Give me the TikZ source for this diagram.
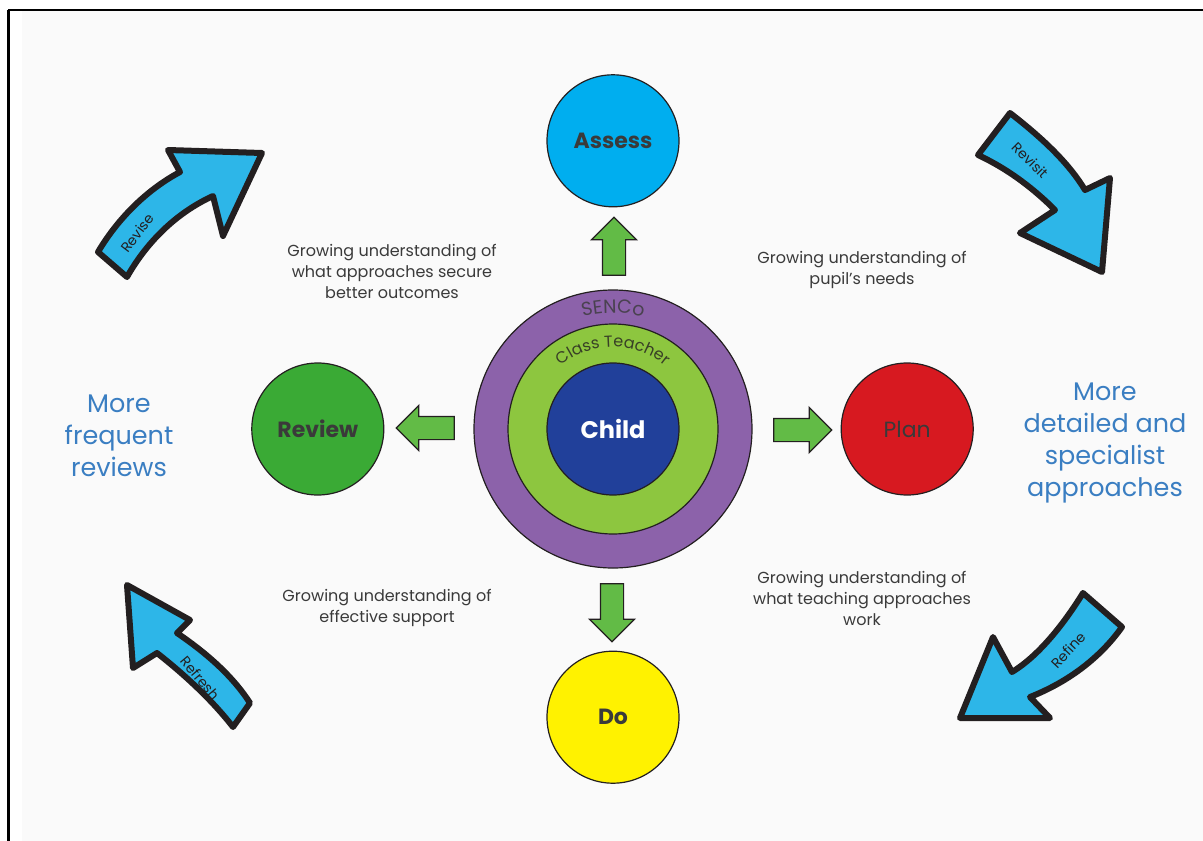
\documentclass[tikz,border=0pt]{standalone}
\usepackage{fontspec}
\setmainfont{Poppins}
\usetikzlibrary{positioning,shapes.arrows,decorations.text}

\definecolor{assesscol}{HTML}{00AEEF}
\definecolor{reviewcol}{HTML}{3AAA35}
\definecolor{plancol}{HTML}{D71920}
\definecolor{docol}{HTML}{FFF200}
\definecolor{sencocol}{HTML}{8C62AA}
\definecolor{teachercol}{HTML}{8DC63F}
\definecolor{childcol}{HTML}{21409A}
\definecolor{arrowgreen}{HTML}{62BB46}
\definecolor{arrowblue}{HTML}{2DB6E8}
\definecolor{inkdark}{HTML}{231F20}
\definecolor{notegray}{HTML}{3A3A3A}
\definecolor{aimblue}{HTML}{3A7EC2}
\definecolor{pagegray}{HTML}{FAFAFA}

\tikzset{
  phase/.style={circle, draw=inkdark, line width=1.2pt, minimum size=132pt, inner sep=0pt,
    text=notegray, font=\fontsize{22}{26}\selectfont\bfseries},
  ring/.style={circle, draw=inkdark, line width=1.2pt, inner sep=0pt},
  garrow/.style={single arrow, draw=inkdark, fill=arrowgreen, line width=1.2pt,
    minimum height=58pt, inner sep=0pt, inner ysep=11pt, single arrow head extend=11pt},
  bigarrow/.style={fill=arrowblue, draw=inkdark, line width=6pt, line join=round},
  note/.style={align=center, text=notegray, font=\fontsize{16}{21}\selectfont},
  aim/.style={align=center, text=aimblue, font=\fontsize{25.5}{32}\selectfont},
  tag/.style={text=inkdark, font=\fontsize{14}{16}\selectfont}
}

\begin{document}
\begin{tikzpicture}[x=1pt, y=1pt]
	\useasboundingbox (0,0) rectangle (1203,-841);
	\fill[white] (0,0) rectangle (1203,-841);
	\fill[pagegray] (22,-11) rectangle (1203,-841);
	\draw[line width=2pt] (8,-10) -- (1203,-10);
	\draw[line width=3pt] (8,-10) -- (8,-841);

	\node[ring, fill=sencocol, minimum size=278pt]   (senco)   at (613,-429) {};
	\node[ring, fill=teachercol, minimum size=210pt] (teacher) at (senco.center) {};
	\node[ring, fill=childcol, minimum size=132pt, text=white,
		font=\fontsize{24}{28}\selectfont\bfseries]   (child)   at (senco.center) {Child};

	\path[decorate, decoration={text along path, text align=center, text color=notegray!80!sencocol,
		text={|\fontsize{19}{20}\selectfont|SENCo}}]
		(senco.center) ++(160:116) arc (160:20:116);
	\path[decorate, decoration={text along path, text align=center, text color=inkdark!80!teachercol,
		text={|\fontsize{16}{18}\selectfont|Class Teacher}}]
		(senco.center) ++(160:82) arc (160:20:82);

	\node[phase, fill=assesscol] (assess) [above=82pt of senco] {Assess};
	\node[phase, fill=docol]     (do)     [below=82pt of senco] {Do};
	\node[phase, fill=reviewcol] (review) [left=89pt of senco]  {Review};
	\node[phase, fill=plancol, font=\fontsize{22}{26}\selectfont] (plan) [right=88pt of senco] {Plan};

	\node[garrow, rotate=90]  (toassess) at (614,-252) {};
	\node[garrow, rotate=-90] (todo)     at (612,-607) {};
	\node[garrow, rotate=180] (toreview) at (431,-428) {};
	\node[garrow]             (toplan)   at (797,-430) {};

	\node[note] (secure)  at (392,-271) {Growing understanding of\\what approaches secure\\better outcomes};
	\node[note] (needs)   at (862,-270) {Growing understanding of\\pupil's needs};
	\node[note] (support) at (387,-608) {Growing understanding of\\effective support};
	\node[note] (works)   at (862,-598) {Growing understanding of\\what teaching approaches\\work};

	\node[aim] (frequent)   at (119,-436) {More\\frequent\\reviews};
	\node[aim] (specialist) at (1105,-443) {More\\detailed and\\specialist\\approaches};

	\draw[bigarrow] (98,-252) .. controls (120,-215) and (150,-188) .. (180,-172) -- (168,-150)
		-- (262,-153) -- (223,-236) -- (213,-196) .. controls (178,-212) and (148,-240) .. (127,-277) -- cycle;
	\draw[bigarrow] (1010,-113) .. controls (1045,-140) and (1070,-165) .. (1085,-190) -- (1110,-178)
		-- (1102,-272) -- (1020,-233) -- (1055,-210) .. controls (1035,-190) and (1010,-170) .. (978,-155) -- cycle;
	\draw[bigarrow] (1083,-593) .. controls (1065,-622) and (1040,-655) .. (1012,-672) -- (993,-637)
		-- (960,-718) -- (1050,-718) -- (1030,-697) .. controls (1068,-682) and (1100,-658) .. (1122,-627) -- cycle;
	\draw[bigarrow] (127,-585) -- (190,-620) -- (177,-633) .. controls (205,-652) and (232,-675) .. (250,-703)
		-- (233,-727) .. controls (212,-700) and (185,-675) .. (157,-653) -- (133,-668) -- cycle;

	\node[tag, rotate=53]  (revise)  at (137,-233) {Revise};
	\node[tag, rotate=-45] (revisit) at (1030,-160) {Revisit};
	\node[tag, rotate=47]  (refine)  at (1068,-650) {Refine};
	\node[tag, rotate=-50] (refresh) at (200,-678) {Refresh};
\end{tikzpicture}
\end{document}
